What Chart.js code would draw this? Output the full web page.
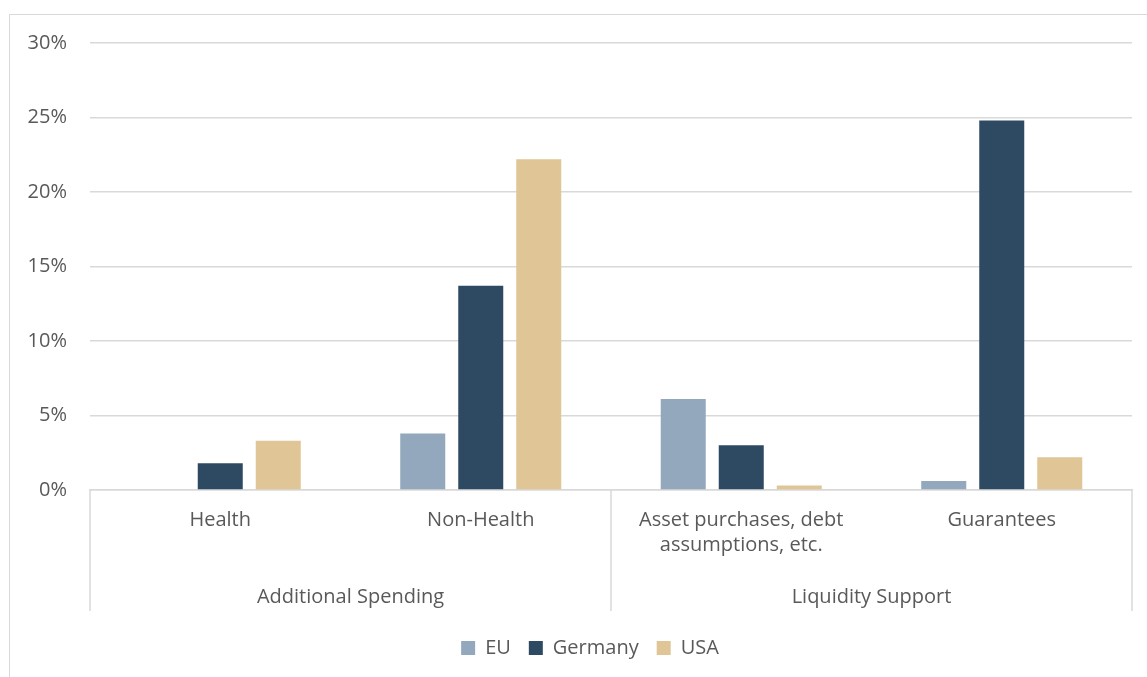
<!DOCTYPE html>
<html>
<head>
<meta charset="utf-8">
<script src="https://cdn.jsdelivr.net/npm/chart.js@4.4.1/dist/chart.umd.min.js"></script>
<style>
  html, body { margin: 0; padding: 0; background: #ffffff; overflow: hidden; }
  #frame { position: absolute; left: 9px; top: 14px; width: 1160px; height: 700px;
           border-left: 1.5px solid #d9d9d9; border-top: 1.5px solid #d9d9d9; box-sizing: border-box; }
  #c { position: absolute; left: 0; top: 0; }
</style>
</head>
<body>
<div id="frame"></div>
<canvas id="c" width="1147" height="677"></canvas>
<script>
// ---- Data ----
const categories = ['Health', 'Non-Health', ['Asset purchases, debt', 'assumptions, etc.'], 'Guarantees'];
const groups = ['Additional Spending', 'Liquidity Support'];
const seriesNames = ['EU', 'Germany', 'USA'];
const euValues = [null, 3.8, 6.1, 0.6];
const germanyValues = [1.8, 13.7, 3.0, 24.8];
const usaValues = [3.3, 22.2, 0.3, 2.2];
const seriesColors = ['#93a8bc', '#2e4a63', '#e0c597'];

const textColor = '#595959';
const gridColor = '#d9d9d9';
const fontFamily = '"Open Sans", "Liberation Sans", sans-serif';

const separators = {
  id: 'separators',
  afterLayout(chart) {
    // legend centred under the plot rather than the whole canvas
    if (chart.legend) chart.legend.left += 48;
  },
  afterDraw(chart) {
    const x2 = chart.scales.x2;
    const ctx = chart.ctx;
    const top = chart.chartArea.bottom;
    const bottom = x2.top + 53;
    const mid = (x2.getPixelForValue(0) + x2.getPixelForValue(1)) / 2;
    ctx.save();
    ctx.strokeStyle = gridColor;
    ctx.lineWidth = 1.5;
    [x2.left, mid, x2.right].forEach(px => {
      ctx.beginPath();
      ctx.moveTo(px, top);
      ctx.lineTo(px, bottom);
      ctx.stroke();
    });
    ctx.restore();
  }
};

const datasets = [euValues, germanyValues, usaValues].map((vals, i) => ({
  label: seriesNames[i],
  data: vals,
  backgroundColor: seriesColors[i],
  borderWidth: 0,
  categoryPercentage: 0.668,
  barPercentage: 0.776
}));

new Chart(document.getElementById('c'), {
  type: 'bar',
  data: { labels: categories, datasets },
  plugins: [separators],
  options: {
    responsive: false,
    animation: false,
    devicePixelRatio: 1,
    layout: { padding: { left: 0, right: 15, top: 43, bottom: 9 } },
    plugins: {
      tooltip: { enabled: false },
      legend: {
        position: 'bottom',
        labels: {
          boxWidth: 14, boxHeight: 14, padding: 18,
          color: textColor,
          font: { family: fontFamily, size: 20 }
        }
      }
    },
    scales: {
      y: {
        min: 0, max: 30,
        ticks: {
          stepSize: 5,
          padding: 23,
          color: textColor,
          font: { family: fontFamily, size: 20 },
          callback: v => v + '%'
        },
        grid: { color: gridColor, lineWidth: 1.5, drawTicks: false },
        border: { display: false },
        afterFit: s => { s.width = 90; }
      },
      x: {
        position: 'bottom',
        grid: { display: false, drawTicks: false },
        border: { display: true, color: gridColor, width: 1.5 },
        ticks: {
          padding: 18,
          color: textColor,
          maxRotation: 0, autoSkip: false,
          font: { family: fontFamily, size: 20, lineHeight: 1.25 }
        },
        afterFit: s => { s.height = 68; }
      },
      x2: {
        type: 'category',
        position: 'bottom',
        labels: groups,
        offset: true,
        grid: { display: false, drawTicks: false },
        border: { display: false },
        ticks: {
          padding: 27,
          color: textColor,
          maxRotation: 0, autoSkip: false,
          font: { family: fontFamily, size: 20, lineHeight: 1.25 }
        },
        afterFit: s => { s.height = 62; }
      }
    }
  }
});
</script>
</body>
</html>
